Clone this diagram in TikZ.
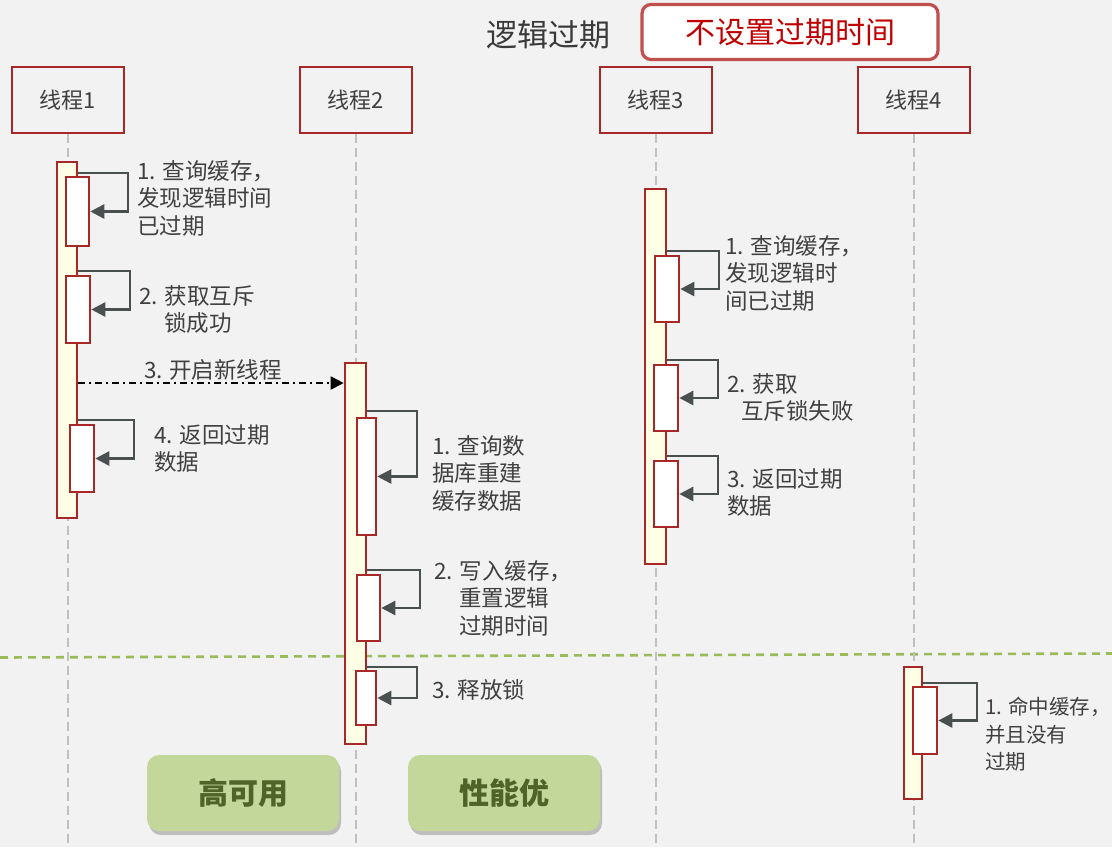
\documentclass[tikz,border=0pt]{standalone}
\usepackage{fontspec}
\setmainfont{Noto Sans CJK SC}
\usetikzlibrary{arrows.meta,shadows}
\definecolor{bg}{HTML}{F2F2F2}
\definecolor{boxred}{HTML}{A82828}
\definecolor{barfill}{HTML}{FFFFE6}
\definecolor{arrowgray}{HTML}{4A4F4F}
\definecolor{txtgray}{HTML}{404040}
\definecolor{lifegray}{HTML}{C0C0C0}
\definecolor{sepgreen}{HTML}{9BBB59}
\definecolor{btnfill}{HTML}{C4D79B}
\definecolor{btntext}{HTML}{4F6228}
\definecolor{titlered}{HTML}{C00000}
\definecolor{titleborder}{HTML}{C0504D}
\tikzset{
  x=1pt,y=-1pt,
  thread/.style={draw=boxred,line width=2.6pt,fill=bg,minimum width=112pt,minimum height=66pt,inner sep=0pt,font=\fontsize{22}{24}\selectfont,text=txtgray},
  lifeline/.style={draw=lifegray,line width=2.6pt,dash pattern=on 9pt off 5pt},
  bigbar/.style={draw=boxred,line width=2.6pt,fill=barfill,inner sep=0pt},
  smallbar/.style={draw=boxred,line width=2.6pt,fill=white,inner sep=0pt},
  selfmsg/.style={draw=arrowgray,line width=2.6pt,-{Triangle[length=14pt,width=14pt]}},
  lbl/.style={anchor=north west,inner sep=0pt,align=left,text=txtgray,font=\fontsize{22.5}{27.5}\selectfont},
  btn/.style={rounded corners=12pt,fill=btnfill,minimum width=192pt,minimum height=76pt,inner sep=0pt,text=btntext,font=\fontsize{30}{32}\selectfont\bfseries,drop shadow={shadow xshift=2pt,shadow yshift=-4pt,opacity=0.45}},
}
\begin{document}
\begin{tikzpicture}
\fill[bg] (0,0) rectangle (1112,847);
\useasboundingbox (0,0) rectangle (1112,847);

% title
\node[inner sep=0pt,text=txtgray!90!black,font=\fontsize{31}{34}\selectfont] (title) at (548,35) {逻辑过期};
\node[draw=titleborder,line width=3.2pt,fill=white,rounded corners=9pt,minimum width=296pt,minimum height=55pt,inner sep=0pt,text=titlered,font=\fontsize{30}{32}\selectfont] (sub) at (790,32) {不设置过期时间};

% separator
\coordinate (sepL) at (0,657.5);
\coordinate (sepR) at (1112,653.5);
\draw[sepgreen,line width=2.6pt,dash pattern=on 8pt off 6pt] (sepL) -- (sepR);

% threads
\node[thread] (t1) at (68,100) {线程1};
\node[thread] (t2) at (356,100) {线程2};
\node[thread] (t3) at (656,100) {线程3};
\node[thread] (t4) at (914,100) {线程4};
\coordinate (e1) at (68,847);
\coordinate (e2) at (356,847);
\coordinate (e3) at (658,847);
\coordinate (e4) at (914,847);
\draw[lifeline] (t1.south) -- (e1);
\draw[lifeline] (t2.south) -- (e2);
\draw[lifeline] (t3.south) -- (t3.south |- e3);
\draw[lifeline] (t4.south) -- (e4);

% buttons
\node[btn] (b1) at (243,793) {高可用};
\node[btn] (b2) at (504,793) {性能优};

% ---------- thread 1 ----------
\node[bigbar,minimum width=20pt,minimum height=356pt] (A1) at (67,340) {};
\node[smallbar,minimum width=23pt,minimum height=69pt] (a11) at (77.5,211.5) {};
\node[smallbar,minimum width=24pt,minimum height=67pt] (a12) at (78,309.5) {};
\node[smallbar,minimum width=24pt,minimum height=67pt] (a13) at (82,458.5) {};
\draw[selfmsg] (A1.east |- 0,173) -- (128,173) |- (a11.east);
\draw[selfmsg] (A1.east |- 0,271) -- (130,271) |- (a12.east);
\draw[selfmsg] (A1.east |- 0,420) -- (134,420) |- (a13.east);
\node[lbl] (l11) at (137,160) {1. 查询缓存，\\发现逻辑时间\\已过期};
\node[lbl] (l12) at (139,285) {2. 获取互斥\\\hspace{25pt}锁成功};
\node[lbl] (l13) at (154,424) {4. 返回过期\\数据};

% ---------- thread 2 ----------
\node[bigbar,minimum width=21pt,minimum height=381pt] (A2) at (355.5,553.5) {};
\draw[black,line width=1.8pt,dash pattern=on 7pt off 4pt on 2pt off 4pt,-{Triangle[length=13pt,width=13pt]}] (A1.east |- 0,383) -- (A2.west |- 0,383);
\node[inner sep=0pt,text=txtgray,font=\fontsize{22.5}{24}\selectfont] (l14) at (213,370) {3. 开启新线程};
\node[smallbar,minimum width=19pt,minimum height=117pt] (a21) at (366.5,476.5) {};
\node[smallbar,minimum width=23pt,minimum height=66pt] (a22) at (368.5,608) {};
\node[smallbar,minimum width=20pt,minimum height=54pt] (a23) at (366,698) {};
\draw[selfmsg] (A2.east |- 0,411) -- (417,411) |- (a21.east);
\draw[selfmsg] (A2.east |- 0,570) -- (420,570) |- (a22.east);
\draw[selfmsg] (A2.east |- 0,667) -- (417,667) |- (a23.east);
\node[lbl] (l21) at (432,435) {1. 查询数\\据库重建\\缓存数据};
\node[lbl] (l22) at (434,560) {2. 写入缓存，\\\hspace{25pt}重置逻辑\\\hspace{25pt}过期时间};
\node[lbl] (l23) at (432,679) {3. 释放锁};

% ---------- thread 3 ----------
\node[bigbar,minimum width=21pt,minimum height=375pt] (A3) at (655.5,376.5) {};
\node[smallbar,minimum width=24pt,minimum height=66pt] (a31) at (667,289) {};
\node[smallbar,minimum width=24pt,minimum height=66pt] (a32) at (666,398) {};
\node[smallbar,minimum width=24pt,minimum height=66pt] (a33) at (666,494) {};
\draw[selfmsg] (A3.east |- 0,251) -- (719,251) |- (a31.east);
\draw[selfmsg] (A3.east |- 0,360) -- (718,360) |- (a32.east);
\draw[selfmsg] (A3.east |- 0,456) -- (718,456) |- (a33.east);
\node[lbl] (l31) at (725,235) {1. 查询缓存，\\发现逻辑时\\间已过期};
\node[lbl] (l32) at (727,373) {2. 获取\\\hspace{14pt}互斥锁失败};
\node[lbl] (l33) at (727,468) {3. 返回过期\\数据};

% ---------- thread 4 ----------
\node[bigbar,minimum width=18pt,minimum height=132pt] (A4) at (913,733) {};
\node[smallbar,minimum width=24pt,minimum height=67pt] (a41) at (925,720.5) {};
\draw[selfmsg] (A4.east |- 0,683) -- (977,683) |- (a41.east);
\node[lbl,font=\fontsize{20.5}{27.5}\selectfont] (l41) at (985,697) {1. 命中缓存，\\并且没有\\过期};
\end{tikzpicture}
\end{document}
